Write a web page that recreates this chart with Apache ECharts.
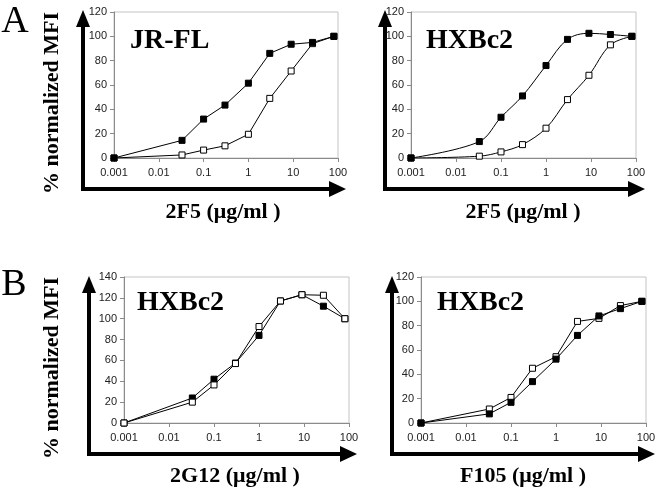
<!DOCTYPE html>
<html><head><meta charset="utf-8">
<script src="https://cdn.jsdelivr.net/npm/echarts@6/dist/echarts.min.js"></script>
<style>html,body{margin:0;padding:0;background:#fff}#c{width:660px;height:491px}</style>
</head><body><div id="c"></div>
<script>
// ---- data ----
const conc = [0.001, 0.033, 0.1, 0.3, 1, 3, 9, 27, 81];
const xTickLabels = ['0.001', '0.01', '0.1', '1', '10', '100'];
const jrflFilled = [0, 14.5, 32, 43.5, 61.5, 86, 93.5, 95, 100];
const jrflOpen = [0, 2.5, 6.5, 10, 19.5, 49, 71.5, 94, 100];
const hxb2F5Filled = [0, 13.5, 33.5, 51, 76, 97.5, 102.5, 101.5, 100];
const hxb2F5Open = [0, 1.5, 5, 11, 24.5, 48, 68, 93, 100];
const hxb2G12Filled = [0, 24, 42, 57.5, 84, 117, 123, 112, 100];
const hxb2G12Open = [0, 20, 36.5, 57, 92.5, 117, 123, 122.5, 100];
const hxbF105Filled = [0, 7.5, 17, 34, 52.5, 72, 88, 94, 100];
const hxbF105Open = [0, 11.5, 21, 45, 54.5, 83.5, 86, 96.5, 100];
const panelTitles = ['JR-FL', 'HXBc2', 'HXBc2', 'HXBc2'];
const xAxisTitles = ['2F5 (μg/ml )', '2F5 (μg/ml )', '2G12 (μg/ml )', 'F105 (μg/ml )'];
const yAxisTitle = '% normalized MFI';
const panelLetters = ['A', 'B'];
const yMax = [120, 120, 140, 120];

// ---- layout ----
const grids = [
  {left: 114, top: 12, width: 224, height: 146},
  {left: 411, top: 12, width: 225, height: 146},
  {left: 124, top: 277, width: 225, height: 146},
  {left: 421, top: 277, width: 225, height: 146}
];
const panels = [
  {filled: jrflFilled, open: jrflOpen, smooth: false, openOnTop: false},
  {filled: hxb2F5Filled, open: hxb2F5Open, smooth: 0.35, openOnTop: false},
  {filled: hxb2G12Filled, open: hxb2G12Open, smooth: false, openOnTop: true},
  {filled: hxbF105Filled, open: hxbF105Open, smooth: false, openOnTop: false}
];
const arrows = [
  {vx: 83, top: 10, hy: 189, tip: 346},
  {vx: 385, top: 10, hy: 189, tip: 645},
  {vx: 89, top: 276, hy: 454, tip: 357},
  {vx: 392, top: 276, hy: 454, tip: 655}
];
const titlePos = [[130, 41], [426, 41], [137, 303], [437, 303]];
const xTitlePos = [[223, 212], [523, 212], [235, 476], [523, 476]];

const SANS = '"Liberation Sans", Arial, sans-serif';
const SERIF = '"Liberation Serif", "Times New Roman", serif';

const xAxes = [], yAxes = [], series = [], graphic = [];
grids.forEach((g, i) => {
  xAxes.push({
    type: 'log', logBase: 10, min: 0.001, max: 100, gridIndex: i,
    axisLine: {show: true, onZero: false, lineStyle: {color: '#8a8a8a', width: 1}},
    axisTick: {show: true, length: 4, lineStyle: {color: '#8a8a8a'}},
    minorTick: {show: false},
    axisLabel: {color: '#222', fontSize: 11, fontFamily: SANS, margin: 9,
      formatter: v => xTickLabels[Math.round(Math.log10(v)) + 3]},
    splitLine: {show: false}
  });
  yAxes.push({
    type: 'value', min: 0, max: yMax[i], interval: 20, gridIndex: i,
    axisLine: {show: true, lineStyle: {color: '#8a8a8a', width: 1}},
    axisTick: {show: true, length: 4, lineStyle: {color: '#8a8a8a'}},
    axisLabel: {color: '#222', fontSize: 11, fontFamily: SANS, margin: 7},
    splitLine: {show: false}
  });
  const p = panels[i];
  const mk = (vals, fill, z) => ({
    type: 'line', xAxisIndex: i, yAxisIndex: i,
    data: conc.map((x, k) => [x, vals[k]]),
    smooth: p.smooth,
    symbol: 'rect', symbolSize: 6, showSymbol: true,
    lineStyle: {color: '#000', width: 1},
    itemStyle: {color: fill, borderColor: '#000', borderWidth: 1},
    emphasis: {disabled: true},
    z: z
  });
  series.push(mk(p.filled, '#000', p.openOnTop ? 2 : 3));
  series.push(mk(p.open, '#fff', p.openOnTop ? 3 : 2));

  // decorative axis arrows
  const a = arrows[i];
  graphic.push({type: 'polyline', silent: true,
    shape: {points: [[a.vx, a.top + 14], [a.vx, a.hy], [a.tip - 14, a.hy]]},
    style: {stroke: '#000', lineWidth: 4, fill: null, lineJoin: 'miter'}});
  graphic.push({type: 'polygon', silent: true,
    shape: {points: [[a.vx - 7, a.top + 17], [a.vx + 7, a.top + 17], [a.vx, a.top]]},
    style: {fill: '#000'}});
  graphic.push({type: 'polygon', silent: true,
    shape: {points: [[a.tip - 17, a.hy - 8], [a.tip - 17, a.hy + 8], [a.tip, a.hy]]},
    style: {fill: '#000'}});
  // panel title
  graphic.push({type: 'text', silent: true, x: titlePos[i][0], y: titlePos[i][1],
    style: {text: panelTitles[i], font: 'bold 28px ' + SERIF, fill: '#000',
      textAlign: 'left', textVerticalAlign: 'middle'}});
  // x axis title
  graphic.push({type: 'text', silent: true, x: xTitlePos[i][0], y: xTitlePos[i][1],
    style: {text: xAxisTitles[i], font: 'bold 22px ' + SERIF, fill: '#000',
      textAlign: 'center', textVerticalAlign: 'middle'}});
});
// y titles and letters
[[52, 103], [52, 368]].forEach(pt => {
  graphic.push({type: 'text', silent: true, x: pt[0], y: pt[1], rotation: Math.PI / 2,
    style: {text: yAxisTitle, font: 'bold 22px ' + SERIF, fill: '#000',
      textAlign: 'center', textVerticalAlign: 'middle'}});
});
[[15, 22], [14, 285]].forEach((pt, k) => {
  graphic.push({type: 'text', silent: true, x: pt[0], y: pt[1],
    style: {text: panelLetters[k], font: '38px ' + SERIF, fill: '#000',
      textAlign: 'center', textVerticalAlign: 'middle'}});
});

const chart = echarts.init(document.getElementById('c'), null, {renderer: 'canvas'});
chart.setOption({
  animation: false,
  backgroundColor: '#fff',
  grid: grids.map(g => Object.assign({show: true, borderColor: '#c4c4c4', borderWidth: 1, containLabel: false}, g)),
  xAxis: xAxes,
  yAxis: yAxes,
  series: series,
  graphic: graphic
});
</script>
</body></html>
